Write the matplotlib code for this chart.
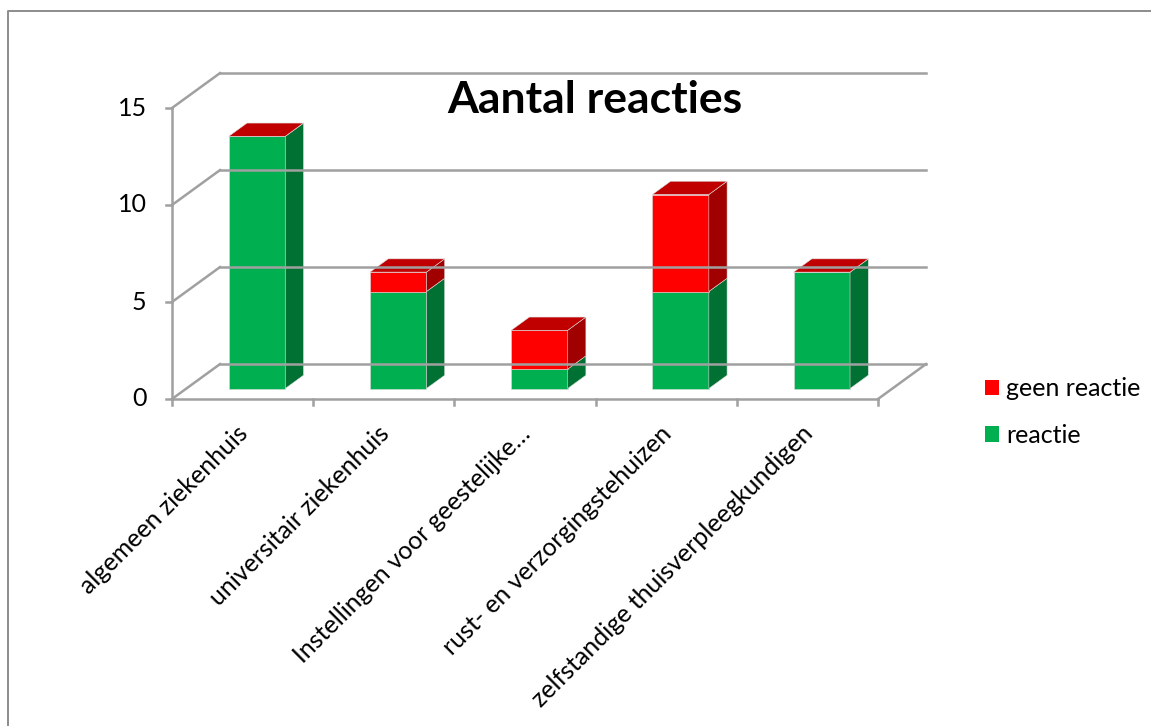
"""Aantal reacties: stacked 3D-style column chart (oblique projection)."""

import matplotlib.pyplot as plt
from matplotlib.lines import Line2D
from matplotlib.patches import Patch, Polygon

plt.rcParams["font.family"] = ["Lato", "DejaVu Sans"]

categories = [
    "algemeen ziekenhuis",
    "universitair ziekenhuis",
    "Instellingen voor geestelijke…",
    "rust- en verzorgingstehuizen",
    "zelfstandige thuisverpleegkundigen",
]
reactie = [13, 5, 1, 5, 6]
geen_reactie = [0, 1, 2, 5, 0]
y_ticks = [0, 5, 10, 15]

GREEN, GREEN_SIDE = "#00b050", "#007033"
RED, RED_SIDE, RED_TOP = "#ff0000", "#a00000", "#c00000"
GRID = "#a0a0a0"
FS = 18

# oblique projection: depth 0 = front plane, depth 1 = back wall
DX, DY = 0.34, 1.8
BAR_W = 0.40
D0, D1 = 0.30, 0.68


def proj(x, v, d):
    return x + d * DX, v + d * DY


fig = plt.figure(figsize=(11.51, 7.26), dpi=100)
ax = fig.add_axes([0, 0, 1, 1])
ax.set_xlim(-172 / 141.2, (1151 - 172) / 141.2)
ax.set_ylim(-327 / 19.4, 399 / 19.4)
ax.axis("off")

n = len(categories)
ymax = y_ticks[-1]

# back wall gridlines and left wall diagonals
for t in y_ticks:
    ax.plot(*zip(proj(0, t, 1), proj(n, t, 1)), color=GRID, lw=1.8)
    ax.plot(*zip(proj(0, t, 0), proj(0, t, 1)), color=GRID, lw=1.8)
# floor right edge
ax.plot(*zip(proj(n, 0, 0), proj(n, 0, 1)), color=GRID, lw=1.8)

# front axes
ax.plot([0, 0], [0, ymax], color=GRID, lw=1.8)
ax.plot([0, n], [0, 0], color=GRID, lw=1.8)
for t in y_ticks:
    ax.plot([-0.045, 0], [t, t], color=GRID, lw=1.8)
    ax.text(-0.18, t, str(t), ha="right", va="center", fontsize=FS)
for i in range(n + 1):
    ax.plot([i, i], [0, -0.33], color=GRID, lw=1.8)


def box(x0, x1, v0, v1, face, side, top=None):
    front = [proj(x0, v0, D0), proj(x1, v0, D0), proj(x1, v1, D0), proj(x0, v1, D0)]
    right = [proj(x1, v0, D0), proj(x1, v0, D1), proj(x1, v1, D1), proj(x1, v1, D0)]
    patches = [(front, face), (right, side)]
    if top is not None:
        cap = [proj(x0, v1, D0), proj(x1, v1, D0), proj(x1, v1, D1), proj(x0, v1, D1)]
        patches.append((cap, top))
    for pts, col in patches:
        ax.add_patch(Polygon(pts, closed=True, facecolor=col,
                             edgecolor="#dcdcdc", lw=0.4, joinstyle="miter"))


for i, (g, r) in enumerate(zip(reactie, geen_reactie)):
    x0 = i + 0.5 - BAR_W / 2
    x1 = i + 0.5 + BAR_W / 2
    box(x0, x1, 0, g, GREEN, GREEN_SIDE)
    box(x0, x1, g, g + r, RED, RED_SIDE, top=RED_TOP)

# category labels, rotated 45 degrees and ending under each column
for i, label in enumerate(categories):
    ax.text(i + 0.51, -1.6, label, rotation=45, rotation_mode="anchor",
            ha="right", va="center", fontsize=FS)

fig.text(595 / 1151, 1 - 100 / 726, "Aantal reacties", ha="center",
         va="center", fontsize=32, fontweight="bold")

handles = [Patch(facecolor=RED), Patch(facecolor=GREEN)]
fig.legend(handles, ["geen reactie", "reactie"], loc="center left",
           bbox_to_anchor=(962 / 1151, 1 - 412 / 726), frameon=False,
           fontsize=FS, handlelength=0.56, handleheight=0.56,
           handletextpad=0.32, labelspacing=0.95)

# chart area border (left and top edges visible)
bx, by = 8 / 1151, 1 - 11 / 726
fig.add_artist(Line2D([bx, bx, 1.0], [0.0, by, by], transform=fig.transFigure,
                      color="#8c8c8c", lw=1.4))

fig.savefig("out.png", dpi=100)
